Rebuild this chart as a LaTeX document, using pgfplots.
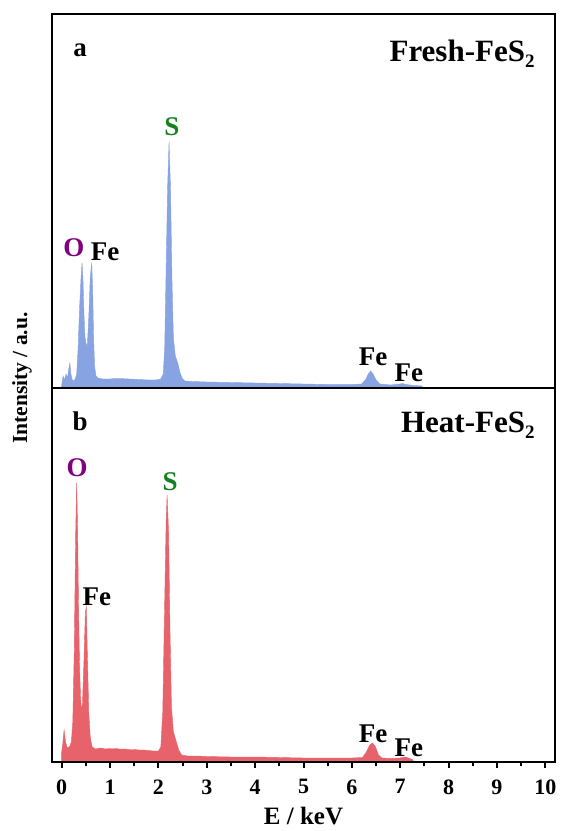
\documentclass[border=0pt]{standalone}
\usepackage{pgfplots}
\pgfplotsset{compat=1.18}
\usepackage{fontspec}
\setmainfont{Liberation Serif}
\definecolor{specblue}{RGB}{135,163,225}
\definecolor{specred}{RGB}{231,98,106}
\definecolor{elpurple}{RGB}{128,0,128}
\definecolor{elgreen}{RGB}{20,130,30}
\tikzset{lbl/.style={font=\fontsize{27}{27}\selectfont\bfseries},
 ttl/.style={font=\fontsize{31}{31}\selectfont\bfseries}}
\newcommand{\subtwo}{\raisebox{-0.45ex}{\fontsize{19}{19}\selectfont 2}}

\begin{document}
\begin{tikzpicture}
\path[use as bounding box] (-52pt,-69pt) rectangle (509pt,762pt);
\pgfplotsset{
 panel/.style={
  width=503pt, height=374pt, scale only axis,
  xmin=-0.2, xmax=10.2, ymin=0, ymax=374,
  axis line style={line width=2pt},
  ytick=\empty,
  xtick={0,...,10}, minor x tick num=1,
  xtick pos=lower,
  tick align=outside,
  major tick length=6pt, minor tick length=4pt,
  every tick/.style={black, line width=2pt},
  axis on top,
  clip=true,
 },
}
% ---- panel b (bottom) ----
\begin{axis}[panel, at={(0,0)}, anchor=south west,
  xticklabel style={font=\fontsize{22}{22}\selectfont\bfseries, yshift=-8pt},
  /pgf/number format/assume math mode=true,
  xlabel={E / keV},
  xlabel style={font=\fontsize{25}{25}\selectfont\bfseries, at={(axis description cs:0.5,0)}, anchor=center, yshift=-54pt}]
\addplot[draw=specred, fill=specred, line width=0.4pt] coordinates {
(0.00,10) (0.02,17) (0.05,32) (0.08,20) (0.11,15) (0.14,14) (0.17,16) (0.20,20)
(0.23,40) (0.26,110) (0.29,230) (0.31,279) (0.33,230) (0.35,150) (0.37,95)
(0.39,65) (0.41,52) (0.43,58) (0.46,100) (0.49,150) (0.51,155) (0.53,110)
(0.56,50) (0.59,25) (0.63,15) (0.70,13) (0.80,14) (0.90,13) (1.00,13.5)
(1.10,13.5) (1.20,13) (1.30,13) (1.40,12.5) (1.50,12.5) (1.60,12) (1.70,12)
(1.80,11.5) (1.90,11) (2.00,11) (2.05,15) (2.09,50) (2.13,160) (2.16,240)
(2.18,267) (2.21,230) (2.24,130) (2.27,55) (2.31,30) (2.36,22) (2.42,12)
(2.48,7) (2.60,6) (2.80,6) (3.00,5.5) (3.50,5) (4.00,5) (4.50,4.5) (5.00,4)
(5.50,4) (6.00,4) (6.22,4.5) (6.30,10) (6.37,17) (6.43,19) (6.49,15)
(6.55,7) (6.62,4) (6.80,3.5) (7.00,4) (7.10,5) (7.20,3.5) (7.26,2) (7.28,0)
} \closedcycle;
\node[lbl] at (axis cs:0.38,341) {b};
\node[ttl, anchor=east] at (axis cs:9.85,337) {Heat-FeS\subtwo};
\node[lbl, text=elpurple] at (axis cs:0.32,294) {O};
\node[lbl, text=elgreen] at (axis cs:2.24,280) {S};
\node[lbl] at (axis cs:0.73,165) {Fe};
\node[lbl] at (axis cs:6.44,28) {Fe};
\node[lbl] at (axis cs:7.18,14) {Fe};
\end{axis}
% ---- panel a (top) ----
\begin{axis}[panel, at={(0,374pt)}, anchor=south west, xtick=\empty, minor x tick num=0]
\addplot[draw=specblue, fill=specblue, line width=0.4pt] coordinates {
(0.00,3) (0.03,12) (0.06,8) (0.09,14) (0.12,10) (0.15,20) (0.17,25) (0.19,14)
(0.22,8) (0.25,7) (0.28,9) (0.31,14) (0.34,40) (0.37,80) (0.40,110) (0.42,125)
(0.44,110) (0.46,75) (0.48,52) (0.50,45) (0.53,42) (0.56,70) (0.59,110)
(0.62,125) (0.64,100) (0.66,50) (0.68,22) (0.71,12) (0.75,10) (0.85,9)
(1.00,9) (1.10,9.5) (1.20,9.5) (1.40,9) (1.60,8.5) (1.80,8) (1.95,8) (2.05,9)
(2.10,14) (2.13,40) (2.16,120) (2.19,200) (2.22,246) (2.25,200) (2.28,110)
(2.31,50) (2.35,32) (2.40,25) (2.45,15) (2.50,9) (2.55,7) (2.70,6.5)
(3.00,6) (3.50,5.5) (4.00,5) (4.50,4.5) (5.00,4) (5.50,3.5) (6.00,3.5)
(6.20,4) (6.28,8) (6.34,14) (6.39,17) (6.44,14) (6.50,8) (6.58,4) (6.80,3)
(7.00,4) (7.05,4.5) (7.12,3.5) (7.30,2.5) (7.45,2) (7.47,0)
} \closedcycle;
\node[lbl] at (axis cs:0.38,338) {a};
\node[ttl, anchor=east] at (axis cs:9.85,334) {Fresh-FeS\subtwo};
\node[lbl, text=elgreen] at (axis cs:2.28,261) {S};
\node[lbl, text=elpurple] at (axis cs:0.25,140) {O};
\node[lbl] at (axis cs:0.90,136) {Fe};
\node[lbl] at (axis cs:6.44,31) {Fe};
\node[lbl] at (axis cs:7.18,15) {Fe};
\end{axis}
\node[rotate=90, font=\fontsize{21.5}{21.5}\selectfont\bfseries] at (-30pt,384pt) {Intensity / a.u.};
\end{tikzpicture}
\end{document}
